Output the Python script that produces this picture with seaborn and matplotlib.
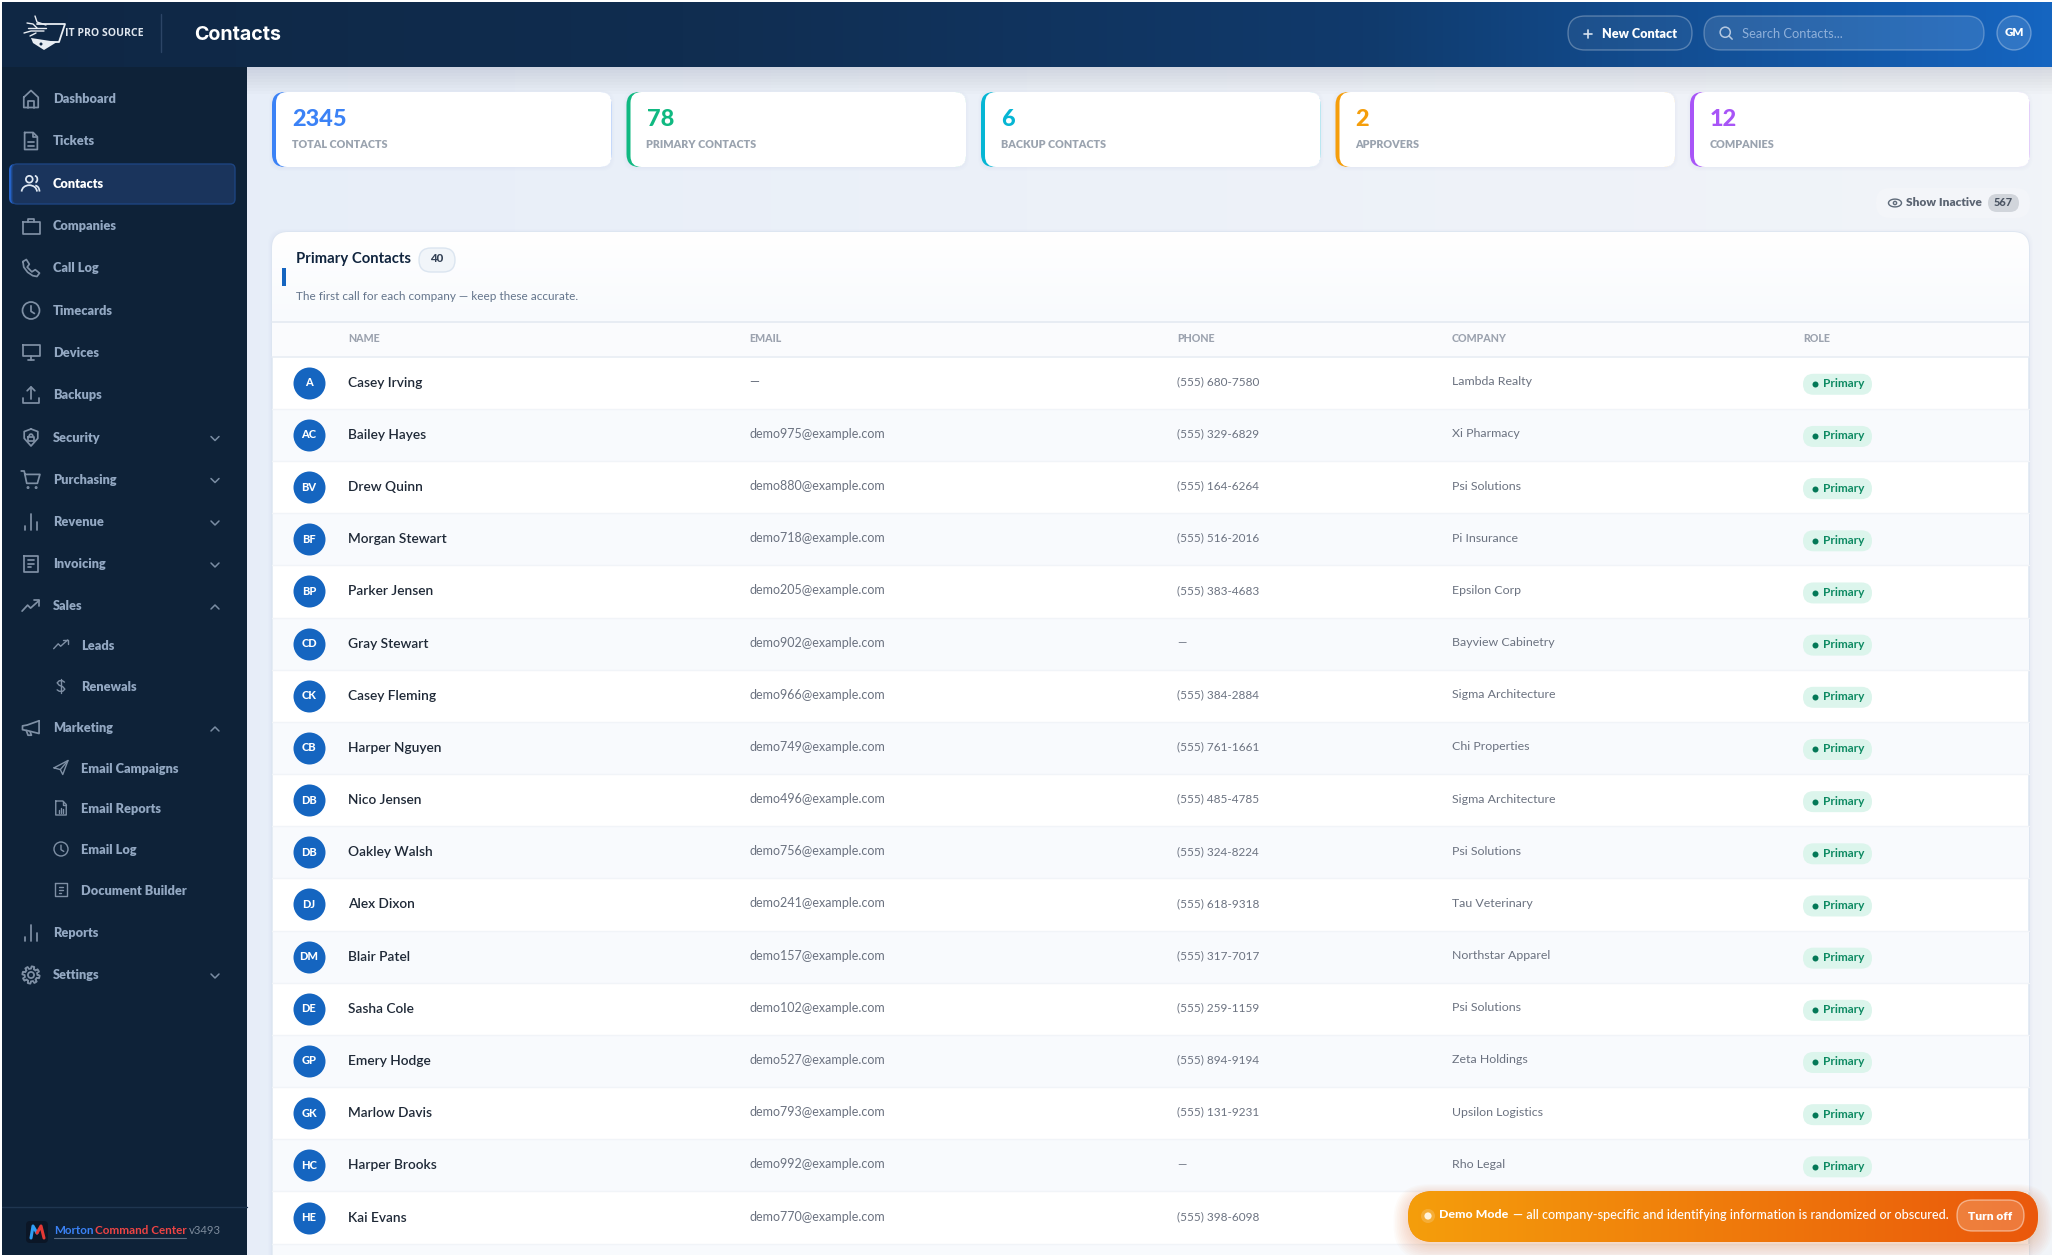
import numpy as np
import pandas as pd
import seaborn as sns
import matplotlib
matplotlib.use("Agg")
import matplotlib.pyplot as plt
from matplotlib.patches import FancyBboxPatch, Circle, Arc, Rectangle, Polygon
from matplotlib.lines import Line2D
from matplotlib.colors import LinearSegmentedColormap, to_rgba

# ---------- data ----------
nav_labels = ["Dashboard", "Tickets", "Contacts", "Companies", "Call Log", "Timecards", "Devices", "Backups",
              "Security", "Purchasing", "Revenue", "Invoicing", "Sales", "Leads", "Renewals", "Marketing",
              "Email Campaigns", "Email Reports", "Email Log", "Document Builder", "Reports", "Settings"]
nav_y = [98, 140, 182.5, 225, 267, 309.5, 351.5, 394, 436.5, 478.5, 521, 563, 605, 644.5, 686, 727,
         767.5, 808, 849, 890, 932, 974]
nav_icons = ["home", "doc", "users", "case", "phone", "clock", "monitor", "upload", "shield", "cart", "bars", "note",
             "trend", "trend", "dollar", "mega", "send", "report", "clock", "note", "bars", "gear"]
nav_sub = ["Leads", "Renewals", "Email Campaigns", "Email Reports", "Email Log", "Document Builder"]
nav_chevron_down = ["Security", "Purchasing", "Revenue", "Invoicing", "Settings"]
nav_chevron_up = ["Sales", "Marketing"]

kpi_values = ["2345", "78", "6", "2", "12"]
kpi_labels = ["TOTAL CONTACTS", "PRIMARY CONTACTS", "BACKUP CONTACTS", "APPROVERS", "COMPANIES"]
kpi_colors = ["#3b82f6", "#10b981", "#06b6d4", "#f59e0b", "#a855f7"]

col_titles = ["NAME", "EMAIL", "PHONE", "COMPANY", "ROLE"]
initials = ["A", "AC", "BV", "BF", "BP", "CD", "CK", "CB", "DB", "DB", "DJ", "DM", "DE", "GP", "GK", "HC", "HE"]
names = ["Casey Irving", "Bailey Hayes", "Drew Quinn", "Morgan Stewart", "Parker Jensen", "Gray Stewart",
         "Casey Fleming", "Harper Nguyen", "Nico Jensen", "Oakley Walsh", "Alex Dixon", "Blair Patel",
         "Sasha Cole", "Emery Hodge", "Marlow Davis", "Harper Brooks", "Kai Evans"]
emails = ["—", "demo975@example.com", "demo880@example.com", "demo718@example.com", "demo205@example.com",
          "demo902@example.com", "demo966@example.com", "demo749@example.com", "demo496@example.com",
          "demo756@example.com", "demo241@example.com", "demo157@example.com", "demo102@example.com",
          "demo527@example.com", "demo793@example.com", "demo992@example.com", "demo770@example.com"]
phones = ["(555) 680-7580", "(555) 329-6829", "(555) 164-6264", "(555) 516-2016", "(555) 383-4683", "—",
          "(555) 384-2884", "(555) 761-1661", "(555) 485-4785", "(555) 324-8224", "(555) 618-9318",
          "(555) 317-7017", "(555) 259-1159", "(555) 894-9194", "(555) 131-9231", "—", "(555) 398-6098"]
companies = ["Lambda Realty", "Xi Pharmacy", "Psi Solutions", "Pi Insurance", "Epsilon Corp", "Bayview Cabinetry",
             "Sigma Architecture", "Chi Properties", "Sigma Architecture", "Psi Solutions", "Tau Veterinary",
             "Northstar Apparel", "Psi Solutions", "Zeta Holdings", "Upsilon Logistics", "Rho Legal", ""]
roles = ["Primary"] * 16

# ---------- setup ----------
W, H = 2052, 1255
sns.set_theme(style="white")
BODY = ["Lato", "DejaVu Sans"]
plt.rcParams["font.family"] = BODY
fig = plt.figure(figsize=(W / 100, H / 100), dpi=100, facecolor="white")
ax = fig.add_axes([0, 0, 1, 1])
ax.set_xlim(0, W)
ax.set_ylim(H, 0)
ax.axis("off")


def rr(x0, y0, x1, y1, r, fc="none", ec="none", lw=0, z=2, alpha=None):
    p = FancyBboxPatch((x0, y0), x1 - x0, y1 - y0, boxstyle=f"round,pad=0,rounding_size={r}",
                       fc=fc, ec=ec, lw=lw, zorder=z, alpha=alpha, mutation_aspect=1)
    ax.add_patch(p)
    return p


def rect(x0, y0, x1, y1, fc, z=2, alpha=None):
    p = Rectangle((x0, y0), x1 - x0, y1 - y0, fc=fc, ec="none", lw=0, zorder=z, alpha=alpha)
    ax.add_patch(p)
    return p


def grad(x0, y0, x1, y1, colors, z=1, vertical=False, clip=None):
    cm = LinearSegmentedColormap.from_list("g", colors)
    g = np.linspace(0, 1, 512)
    g = g[:, None] if vertical else g[None, :]
    im = ax.imshow(g, extent=(x0, x1, y1, y0), aspect="auto", cmap=cm, vmin=0, vmax=1, zorder=z,
                   interpolation="bilinear")
    if clip is not None:
        im.set_clip_path(clip)
    return im


def T(x, y, s, px, color, weight="normal", ha="left", family=None, z=8):
    return ax.text(x, y, s, fontsize=px * 0.72, color=color, fontweight=weight, ha=ha, va="center",
                   family=family if family else BODY, zorder=z)


def L(pts, c, lw=1.3, z=6):
    xs, ys = zip(*pts)
    ax.add_line(Line2D(xs, ys, color=c, lw=lw, zorder=z, solid_capstyle="round", solid_joinstyle="round"))


def icon(kind, cx, cy, s, c, lw=1.25):
    def P(*pts):
        L([(cx + a * s, cy + b * s) for a, b in pts], c, lw)

    def C(a, b, r):
        ax.add_patch(Circle((cx + a * s, cy + b * s), r * s, fc="none", ec=c, lw=lw, zorder=6))

    def A(a, b, w, h, t1, t2):
        ax.add_patch(Arc((cx + a * s, cy + b * s), w * s, h * s, theta1=t1, theta2=t2, ec=c, lw=lw, zorder=6))

    if kind == "home":
        P((-.85, -.2), (0, -1), (.85, -.2), (.85, 1), (-.85, 1), (-.85, -.2))
        P((-.3, 1), (-.3, .2), (.3, .2), (.3, 1))
    elif kind == "doc":
        P((-.75, -1), (.25, -1), (.75, -.5), (.75, 1), (-.75, 1), (-.75, -1))
        P((.25, -1), (.25, -.5), (.75, -.5))
        P((-.3, .15), (.35, .15))
        P((-.3, .55), (.35, .55))
    elif kind == "users":
        C(-.2, -.5, .4)
        A(-.2, .95, 1.8, 1.5, 180, 360)
        A(.45, -.5, .6, .8, 270, 80)
        A(.5, .95, 1.0, 1.4, 270, 360)
    elif kind == "case":
        P((-1, -.45), (1, -.45), (1, .95), (-1, .95), (-1, -.45))
        P((-.4, -.45), (-.4, -.85), (.4, -.85), (.4, -.45))
    elif kind == "phone":
        P((-.95, -.75), (-.55, -1), (-.2, -.45), (-.45, -.1), (.1, .45), (.5, .2), (1, .6), (.7, 1),
          (.2, .9), (-.4, .5), (-.85, -.1), (-.95, -.75))
    elif kind == "clock":
        C(0, 0, 1)
        P((0, -.55), (0, .1), (.4, .35))
    elif kind == "monitor":
        P((-1, -.85), (1, -.85), (1, .45), (-1, .45), (-1, -.85))
        P((0, .45), (0, .9))
        P((-.4, .9), (.4, .9))
    elif kind == "upload":
        P((-.95, .35), (-.95, .95), (.95, .95), (.95, .35))
        P((0, .45), (0, -.95))
        P((-.45, -.5), (0, -.95), (.45, -.5))
    elif kind == "shield":
        P((0, -1), (.8, -.7), (.8, .1), (0, 1), (-.8, .1), (-.8, -.7), (0, -1))
        P((-.35, -.1), (.35, -.1), (.35, .4), (-.35, .4), (-.35, -.1))
        A(0, -.1, .45, .6, 180, 360)
    elif kind == "cart":
        P((-1.15, -1), (-.8, -1), (-.5, .45), (.75, .45), (1.05, -.6), (-.7, -.6))
        C(-.35, .95, .07)
        C(.6, .95, .07)
    elif kind == "bars":
        P((-.75, .95), (-.75, .45))
        P((0, .95), (0, -.95))
        P((.75, .95), (.75, .05))
    elif kind == "note":
        P((-.8, -1), (.8, -1), (.8, .9), (-.8, .9), (-.8, -1))
        P((-.35, -.5), (.35, -.5))
        P((-.35, -.05), (.35, -.05))
        P((-.35, .4), (0, .4))
    elif kind == "trend":
        P((-1.05, .6), (-.4, -.1), (-.05, .25), (.95, -.65))
        P((.35, -.65), (.95, -.65), (.95, -.05))
    elif kind == "dollar":
        P((.5, -.55), (.2, -.75), (-.25, -.75), (-.55, -.45), (-.25, -.1), (.25, .1), (.55, .45), (.25, .75),
          (-.25, .75), (-.55, .55))
        P((0, -1.05), (0, 1.05))
    elif kind == "mega":
        P((.95, -.85), (.95, .65), (-.45, .3), (-1, .2), (-1, -.25), (-.45, -.35), (.95, -.85))
        P((-.55, .3), (-.35, .85), (.05, .85), (-.1, .45))
    elif kind == "send":
        P((-1, .05), (1, -1), (.25, 1), (-.1, .3), (-1, .05))
        P((-.1, .3), (1, -1))
    elif kind == "report":
        P((-.75, -1), (.25, -1), (.75, -.5), (.75, 1), (-.75, 1), (-.75, -1))
        P((.25, -1), (.25, -.5), (.75, -.5))
        P((-.3, .65), (-.3, .35))
        P((0, .65), (0, -.05))
        P((.3, .65), (.3, .2))
    elif kind == "gear":
        th = np.linspace(0, 2 * np.pi, 97)
        r = 0.88 + 0.14 * np.sign(np.sin(8 * th))
        P(*[(a, b) for a, b in zip(r * np.cos(th), r * np.sin(th))])
        C(0, 0, .36)
    elif kind == "eye":
        th = np.linspace(0, np.pi, 25)
        P(*[(a, b) for a, b in zip(np.cos(th), .6 * np.sin(th))])
        P(*[(a, b) for a, b in zip(np.cos(th), -.6 * np.sin(th))])
        C(0, 0, .25)
    elif kind == "search":
        C(-.12, -.12, .78)
        P((.45, .45), (.95, .95))


# ---------- backgrounds ----------
grad(2, 67, W, H, ["#e6edf8", "#ecf1f8", "#f1f4f8"], z=0)
for i in range(9):
    rect(247, 67, W, 67 + 3 * (i + 1), "#1a2a40", z=0.6, alpha=0.012)
hdr = grad(2, 2, W, 67, ["#0f2744", "#102d50", "#103a6c", "#1565c0"], z=3)
rect(2, 67, 247, H, "#0e2238", z=3)

# ---------- header ----------
L([(161, 14), (161, 52)], "#2c4566", 1.0)
T(194, 34.5, "Contacts", 19.6, "white", "bold", family=["Inter", "DejaVu Sans"])
# logo
W_LOGO = "#e8edf3"
L([(37, 24), (65, 24), (59, 42), (47, 42)], W_LOGO, 1.3)
ax.add_patch(Polygon([(31, 38), (57, 42), (44, 50), (33, 43)], fc=W_LOGO, ec="none", zorder=6))
ax.add_patch(Circle((41, 44), 1.5, fc="#0f2744", ec="none", zorder=7))
for pts in [[(35, 16), (37, 22), (46, 25)], [(27, 23), (33, 24), (37, 28)], [(24, 33), (31, 31), (44, 31)],
            [(30, 36), (36, 33)], [(28, 28), (46, 28)]]:
    L(pts, W_LOGO, 1.0)
T(65, 33.5, "IT PRO SOURCE", 10.5, "#dfe6ee", "bold", family=["Open Sans", "DejaVu Sans"])
# right controls
rr(1568, 16, 1692, 50, 17, fc=to_rgba("white", 0.05), ec=to_rgba("white", 0.28), lw=1.0, z=5)
L([(1584, 33.5), (1592, 33.5)], "#d6e2f0", 1.2)
L([(1588, 29.5), (1588, 37.5)], "#d6e2f0", 1.2)
T(1602, 33.5, "New Contact", 12.6, "white", "heavy")
rr(1704, 16, 1984, 50, 17, fc=to_rgba("white", 0.11), ec=to_rgba("white", 0.25), lw=1.0, z=5)
icon("search", 1726, 33, 6.5, "#b5c8e0", 1.1)
T(1742, 33.5, "Search Contacts...", 12.9, "#8fb0da")
ax.add_patch(Circle((2014, 33), 17, fc=to_rgba("white", 0.12), ec=to_rgba("white", 0.3), lw=1.0, zorder=5))
T(2014, 33, "GM", 11.5, "white", "heavy", ha="center")

# ---------- sidebar ----------
rr(9, 164, 235, 204, 6, fc="#2563c9", z=4)
rr(12, 164, 235, 204, 5, fc="#1a345c", ec="#1d4480", lw=1.0, z=4.5)
NAV = "#93a8c2"
for lab, y, ic_ in zip(nav_labels, nav_y, nav_icons):
    sub = lab in nav_sub
    active = lab == "Contacts"
    col = "white" if active else NAV
    T(81 if sub else 53, y + 1.3, lab, 12.8, col, "heavy")
    icon(ic_, 61 if sub else 31, y + (1 if not sub else 0), 7 if sub else 8.5, "#dfe8f3" if active else "#7f90a5",
         1.0 if sub else 1.25)
    if lab in nav_chevron_down:
        L([(211, y), (215, y + 4), (219, y)], "#7a8da3", 1.1)
    if lab in nav_chevron_up:
        L([(211, y + 4), (215, y), (219, y + 4)], "#7a8da3", 1.1)
L([(2, 1207), (247, 1207)], "#1f3650", 1.0)
rr(26, 1221, 48, 1243, 4, fc="#0b1626", z=5)
L([(31, 1238), (33, 1226), (37, 1233)], "#2f9df4", 2.2)
L([(37, 1233), (41, 1226), (44, 1238)], "#e53935", 2.2)
T(54, 1231, "Morton", 11.6, "#3b82f6", "bold")
T(95, 1231, "Command Center", 11.6, "#ef4444", "bold")
T(188.5, 1231, "v3493", 11.4, "#7d8b9c")
L([(54, 1237.5), (186, 1237.5)], "#5a6b80", 0.8)

# ---------- KPI cards ----------
kpi_x = 272 + 354.5 * np.arange(len(kpi_values))
for x0, v, lab, c in zip(kpi_x, kpi_values, kpi_labels, kpi_colors):
    for k in range(4):
        rr(x0 - k, 92 - k + 1, x0 + 339.5 + k, 167 + k + 1, 13, fc="#5f7ea8", alpha=0.012, z=1.5)
    rr(x0, 92, x0 + 339.5, 167, 13, fc=c, z=2)
    rr(x0 + 4, 92, x0 + 339.5, 167, 11, fc="white", z=2.1)
    T(x0 + 20, 119, v, 23.5, c, "black")
    T(x0 + 20, 144, lab, 10.7, "#9aa3af", "heavy")

# ---------- show inactive ----------
rr(1876, 188, 2030, 218, 14, fc="#f3f5f9", z=2)
icon("eye", 1895, 203, 6.5, "#5f6b7a", 1.0)
T(1906, 202, "Show Inactive", 11.9, "#5b6472", "heavy")
rr(1988, 194, 2019, 212, 9, fc="#d1d5db", z=3)
T(2003.5, 202, "567", 11, "#4b5563", "black", ha="center")

# ---------- table card ----------
TX0, TX1, TY0 = 272, 2029, 232
for k in range(5):
    rr(TX0 - k, TY0 - k + 1, TX1 + k, H + 40, 16, fc="#5f7ea8", alpha=0.012, z=1.5)
card = rr(TX0, TY0, TX1, H + 40, 16, fc="white", ec="#dbe5f0", lw=1.0, z=2)
grad(TX0, TY0, TX1, 322, ["#ffffff", "#f8fafd"], z=2.1, vertical=True, clip=card)
rect(TX0, 322, TX1, 356.7, "#fafbfd", z=2.1)
L([(TX0, 322), (TX1, 322)], "#e4eaf2", 1.2, z=3)
L([(TX0, 356.7), (TX1, 356.7)], "#e8edf4", 1.2, z=3)
rect(282, 268, 285.5, 286, "#1565c0", z=3)
T(296, 259.5, "Primary Contacts", 14.9, "#10243e", "bold")
rr(419, 248, 455, 272, 12, fc="#f1f5f9", ec="#dbe5f0", lw=1.0, z=3)
T(437, 259, "40", 11.5, "#334155", "black", ha="center")
T(296, 297, "The first call for each company — keep these accurate.", 11.8, "#64748b")

col_x = [348, 749, 1177, 1451.5, 1803]
for x, t in zip(col_x, col_titles):
    T(x, 338, t, 10.6, "#9ca3af", "black")

ROW0, ROWH = 356.7, 52.17
n = len(names)
rows = pd.DataFrame({"initials": initials, "name": names, "email": emails, "phone": phones, "company": companies})
rows["row"] = np.arange(n)
rows["y"] = ROW0 + ROWH * (rows["row"] + 0.5)
rows["avatar_x"] = 309.0

for i in range(n + 1):
    y0 = ROW0 + ROWH * i
    if i % 2 == 1:
        rect(TX0 + 0.5, y0, TX1 - 0.5, y0 + ROWH, "#f8fafd", z=2.2)
    if i:
        L([(TX0, y0), (TX1, y0)], "#f1f4f8", 1.0, z=2.4)

sns.scatterplot(data=rows, x="avatar_x", y="y", s=(32 * 0.72) ** 2, color="#1565c0", linewidth=0, legend=False,
                ax=ax, zorder=4)
for _, r in rows.iterrows():
    T(309, r.y, r.initials, 11.0, "white", "black", ha="center")
    T(col_x[0], r.y, r["name"], 13.8, "#1f2937", "semibold")
    T(col_x[1], r.y - 1, r.email, 12.5, "#6b7280")
    T(col_x[2], r.y - 1, r.phone, 11.7, "#6b7280")
    T(col_x[3], r.y - 1, r.company, 12.4, "#6b7280")

badges = pd.DataFrame({"role": roles})
badges["y"] = ROW0 + ROWH * (np.arange(len(roles)) + 0.5) + 1.5
badges["dot_x"] = 1815.0
for _, b in badges.iterrows():
    rr(1803, b.y - 10.5, 1872, b.y + 10.5, 10.5, fc="#dcf5ec", z=3)
    T(1823, b.y - 0.5, b.role, 11.9, "#0d8a62", "bold")
sns.scatterplot(data=badges, x="dot_x", y="y", s=(6 * 0.72) ** 2, color="#047857", linewidth=0, legend=False,
                ax=ax, zorder=4)

# ---------- demo toast ----------
for k in range(10):
    rr(1408 - k * 1.6, 1191 - k * 1.2 + 4, 2038 + k * 1.6, 1242 + k * 1.6 + 4, 26 + k, fc="#d9651e", alpha=0.022, z=8.5)
toast = rr(1408, 1191, 2038, 1242, 25.5, fc="#f08010", z=9)
grad(1408, 1191, 2038, 1242, ["#f59e0b", "#ea580c"], z=9.1, clip=toast)
ax.add_patch(Circle((1428, 1216), 7, fc="white", alpha=0.18, ec="none", zorder=9.3))
ax.add_patch(Circle((1428, 1216), 3.6, fc="#fff3dc", ec="none", zorder=9.4))
T(1439, 1215, "Demo Mode", 12.4, "white", "black", z=10)
T(1513, 1215, "— all company-specific and identifying information is randomized or obscured.", 12.6, "white",
  "medium", z=10)
rr(1957, 1200, 2024, 1231, 15.5, fc=to_rgba("white", 0.2), ec=to_rgba("white", 0.45), lw=1.0, z=9.5)
T(1990.5, 1216, "Turn off", 12.0, "white", "heavy", ha="center", z=10)

# white page edge
rect(0, 0, W, 2, "white", z=20)
rect(0, 0, 2, H, "white", z=20)

ax.set_xlim(0, W)
ax.set_ylim(H, 0)
ax.set_xlabel("")
ax.set_ylabel("")
fig.savefig("out.png", dpi=100, facecolor="white")
